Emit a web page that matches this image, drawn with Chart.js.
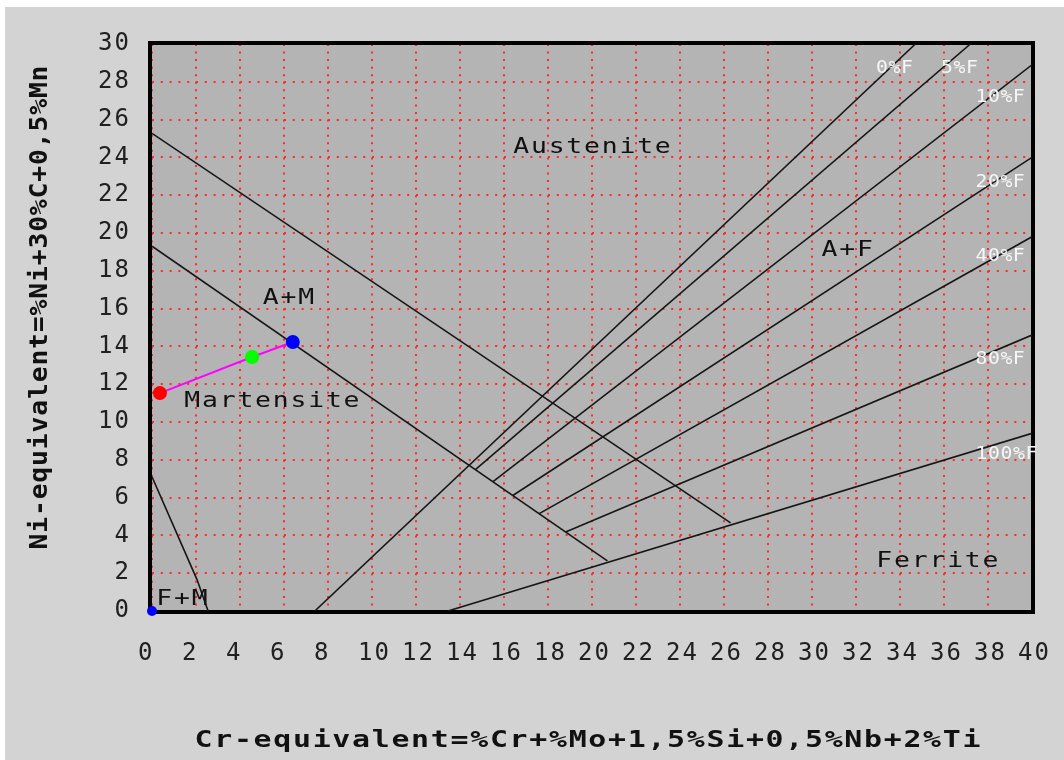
<!DOCTYPE html>
<html>
<head>
<meta charset="utf-8">
<script src="https://cdn.jsdelivr.net/npm/chart.js@4.4.1/dist/chart.umd.min.js"></script>
<style>
  body { margin: 0; background: #fff; }
  .frame { position: absolute; left: 5px; top: 7px; width: 1059px; height: 753px; background: #d3d3d3; }
</style>
</head>
<body>
<div class="frame"><canvas id="chart" width="1059" height="753"></canvas></div>
<script>
// boundary lines of the diagram
var amUpperLine = [{x: 0, y: 25.27}, {x: 26.3, y: 4.66}];
var amLowerLine = [{x: 0, y: 19.3}, {x: 20.7, y: 2.65}];
var fmLine = [{x: 0, y: 7.1}, {x: 2.05, y: 1.65}, {x: 2.55, y: 0}];

// iso-ferrite lines
var ferriteNames = ['0%F', '5%F', '10%F', '20%F', '40%F', '80%F', '100%F'];
var ferriteStartX = [7.4, 14.7, 15.5, 16.4, 17.6, 18.8, 13.45];
var ferriteStartY = [0, 7.48, 6.84, 6.11, 5.15, 4.18, 0];
var ferriteEndX = [34.7, 37.2, 40, 40, 40, 40, 40];
var ferriteEndY = [30, 30, 28.9, 24, 19.8, 14.6, 9.4];
var ferriteLabelX = [33.75, 36.7, 38.55, 38.55, 38.55, 38.55, 38.84];
var ferriteLabelY = [28.8, 28.8, 27.3, 22.8, 18.84, 13.39, 8.41];

// phase fields
var regionNames = ['Austenite', 'A+M', 'Martensite', 'A+F', 'Ferrite', 'F+M'];
var regionX = [20.0, 6.2, 5.45, 31.6, 35.7, 1.36];
var regionY = [24.66, 16.67, 11.2, 19.2, 2.75, 0.74];

// weld points
var weldX = [0.36, 4.55, 6.4];
var weldY = [11.53, 13.44, 14.23];
var weldColors = ['#ff0000', '#00ff00', '#0000ff'];
var originX = [0];
var originY = [0];

var xTitle = 'Cr-equivalent=%Cr+%Mo+1,5%Si+0,5%Nb+2%Ti';
var yTitle = 'Ni-equivalent=%Ni+30%C+0,5%Mn';

var MONO = '"DejaVu Sans Mono", monospace';

function lineSet(points) {
    return {
        data: points,
        showLine: true,
        borderColor: '#161616',
        borderWidth: 1.6,
        pointRadius: 0,
        fill: false
    };
}

function buildDatasets() {
    var sets = [];
    sets.push({
        data: originX.map(function(x, i) { return {x: x, y: originY[i]}; }),
        pointRadius: 5,
        pointBackgroundColor: '#0000ff',
        pointBorderWidth: 0,
        clip: false
    });
    sets.push({
        data: weldX.map(function(x, i) { return {x: x, y: weldY[i]}; }),
        showLine: true,
        borderColor: '#ff00ff',
        borderWidth: 2,
        pointRadius: 7,
        pointBackgroundColor: weldColors,
        pointBorderWidth: 0,
        clip: false
    });
    sets.push(lineSet(amUpperLine));
    sets.push(lineSet(amLowerLine));
    sets.push(lineSet(fmLine));
    for (var i = 0; i < ferriteNames.length; i++) {
        sets.push(lineSet([
            {x: ferriteStartX[i], y: ferriteStartY[i]},
            {x: ferriteEndX[i], y: ferriteEndY[i]}
        ]));
    }
    return sets;
}

// wide bitmap-like text: mono font stretched sideways
function putText(ctx, text, px, py, size, stretch, spacing, color, bold) {
    ctx.save();
    ctx.translate(px, py);
    ctx.scale(stretch, 1);
    ctx.font = (bold ? 'bold ' : '') + size + 'px ' + MONO;
    ctx.letterSpacing = spacing + 'px';
    ctx.fillStyle = color;
    ctx.textAlign = 'center';
    ctx.textBaseline = 'alphabetic';
    ctx.fillText(text, spacing / 2, size * 0.365);
    ctx.restore();
}

var diagramPlugin = {
    id: 'diagram',
    beforeDraw: function(chart) {
        var ctx = chart.ctx, a = chart.chartArea;
        ctx.save();
        ctx.fillStyle = '#b4b4b4';
        ctx.fillRect(a.left, a.top, a.right - a.left, a.bottom - a.top);
        ctx.restore();
        ctx.letterSpacing = '2px';
    },
    beforeDatasetsDraw: function(chart) {
        var ctx = chart.ctx, a = chart.chartArea;
        ctx.save();
        ctx.strokeStyle = '#000';
        ctx.lineWidth = 4;
        ctx.strokeRect(a.left - 2, a.top - 1, a.right - a.left + 3, a.bottom - a.top + 2);
        ctx.restore();
    },
    afterDatasetsDraw: function(chart) {
        var ctx = chart.ctx;
        var xs = chart.scales.x, ys = chart.scales.y;
        for (var i = 0; i < regionNames.length; i++) {
            putText(ctx, regionNames[i], xs.getPixelForValue(regionX[i]), ys.getPixelForValue(regionY[i]), 22, 1.2, 1.5, '#111', false);
        }
        for (var j = 0; j < ferriteNames.length; j++) {
            putText(ctx, ferriteNames[j], xs.getPixelForValue(ferriteLabelX[j]), ys.getPixelForValue(ferriteLabelY[j]), 18, 1.1, 0.5, '#f6f6f6', false);
        }
        putText(ctx, xTitle, 582.5, 731.5, 23, 1.3, 1.3, '#111', true);
        ctx.save();
        ctx.translate(33, 300.5);
        ctx.rotate(-Math.PI / 2);
        putText(ctx, yTitle, 0, 0, 24, 1.1, 0.75, '#111', true);
        ctx.restore();
    },
    afterDraw: function(chart) {
        chart.ctx.letterSpacing = '0px';
    }
};

function drawChart() {
    var ctx = document.getElementById('chart').getContext('2d');
    new Chart(ctx, {
        type: 'scatter',
        data: { datasets: buildDatasets() },
        options: {
            responsive: false,
            animation: false,
            devicePixelRatio: 1,
            layout: { padding: { left: 0, top: 37, right: 32, bottom: 0 } },
            plugins: { legend: { display: false }, tooltip: { enabled: false } },
            scales: {
                x: {
                    type: 'linear',
                    min: 0, max: 40,
                    afterFit: function(s) { s.height = 149; s.paddingLeft = 0; s.paddingRight = 0; },
                    ticks: {
                        stepSize: 2,
                        align: 'start',
                        labelOffset: -14,
                        padding: 28,
                        color: '#202020',
                        font: { family: MONO, size: 24 }
                    },
                    grid: { color: '#ff2a2a', lineWidth: 2, drawTicks: false },
                    border: { display: false, dash: [2, 5.56] }
                },
                y: {
                    type: 'linear',
                    min: 0, max: 30,
                    afterFit: function(s) { s.width = 147; s.paddingTop = 0; s.paddingBottom = 0; },
                    ticks: {
                        stepSize: 2,
                        padding: 21,
                        color: '#202020',
                        font: { family: MONO, size: 24 }
                    },
                    grid: { color: '#ff2a2a', lineWidth: 2, drawTicks: false },
                    border: { display: false, dash: [2, 6.8] }
                }
            }
        },
        plugins: [diagramPlugin]
    });
}

drawChart();
</script>
</body>
</html>
